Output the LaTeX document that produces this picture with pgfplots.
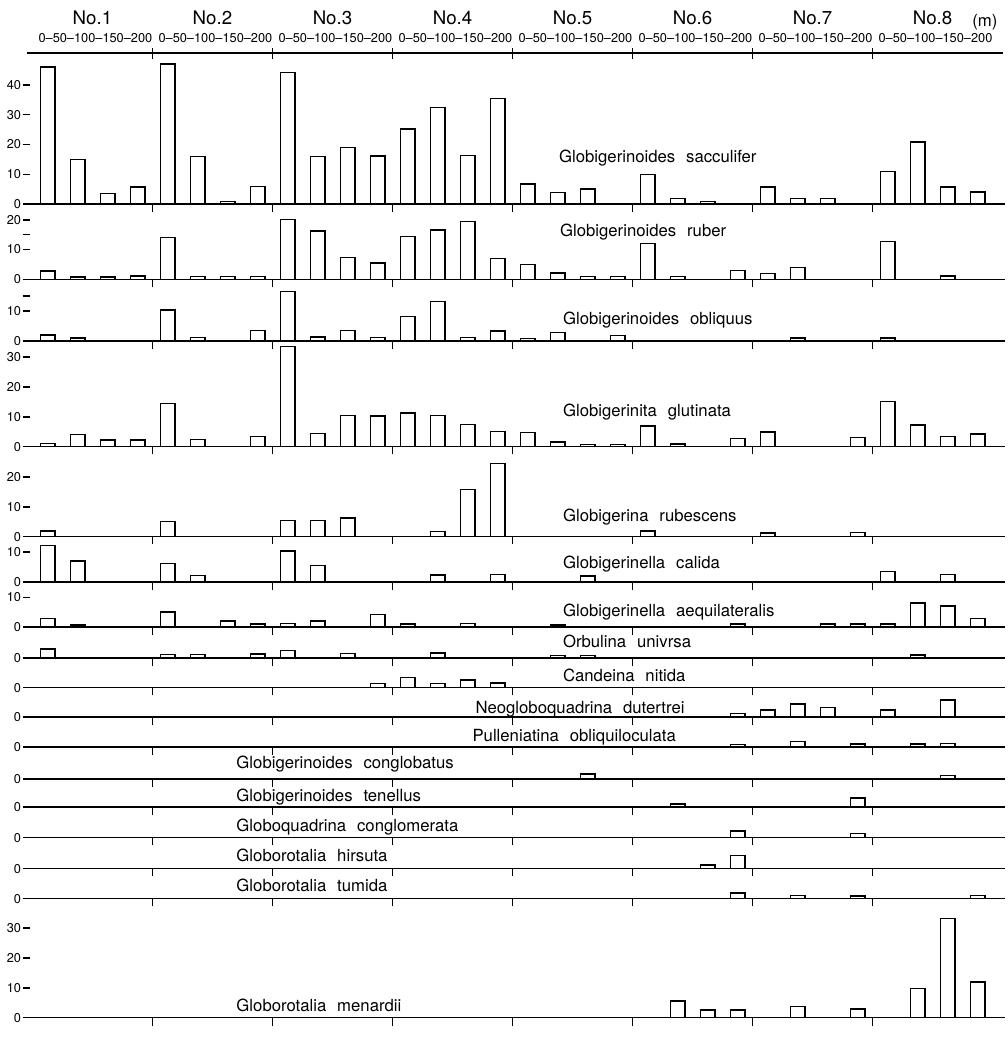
\documentclass[border=0pt]{standalone}
\usepackage{pgfplots}
\pgfplotsset{compat=1.18}
\usepackage{fontspec}
\setmainfont{TeX Gyre Heros}
\newcommand{\lab}{\fontsize{8.5}{10}\selectfont}
\newcommand{\gap}{\hspace{0.65em}}
\pgfplotsset{panel/.style={
  x=15.25pt, y=1.515pt, xmin=-0.2, xmax=32.4, ymin=0,
  enlargelimits=false,
  scale only axis, anchor=south west, clip=false,
  axis x line=bottom, axis y line=left,
  axis line style={-, line width=0.8pt},
  y axis line style={draw=none},
  xtick={4,8,...,28}, xticklabels={},
  tick align=center, major tick length=4pt,
  tick style={black, line width=0.8pt},
  ybar, bar width=0.49,
  /pgf/number format/assume math mode=true,
  yticklabel style={font=\fontsize{6.5}{7}\selectfont, inner sep=0.6pt},
  ytick={0},
}, bars/.style={draw=black, fill=white, line width=0.7pt}}
\begin{document}
\begin{tikzpicture}
\begin{scope}[x=0.5pt,y=0.5pt]
\path[use as bounding box] (0,0) rectangle (1024,-1039);
% header
\draw[line width=0.7pt] (27,-54) -- (1020,-54);
\foreach \s in {155,277,399,521,643,765,887} \draw[line width=0.7pt] (\s,-49) -- (\s,-60);
\foreach \k in {1,...,8} {
  \node[anchor=base, font=\fontsize{9.5}{11}\selectfont, inner sep=0pt] at ({94+122*(\k-1)}, -25) {No.\k};
  \node[anchor=base, font=\fontsize{6.5}{7}\selectfont, inner sep=0pt] at ({97+122*(\k-1)}, -43.5) {0--50--100--150--200};
}
\node[anchor=base west, font=\fontsize{8.5}{10}\selectfont, inner sep=0pt] at (988,-27) {(m)};
% species labels
\begin{scope}[every node/.style={anchor=base west, font=\lab, inner sep=0pt}]
\node at (568,-165.7) {Globigerinoides\gap sacculifer};
\node at (569,-240.7) {Globigerinoides\gap ruber};
\node at (572,-330) {Globigerinoides\gap obliquus};
\node at (572,-423.3) {Globigerinita\gap glutinata};
\node at (572,-530) {Globigerina\gap rubescens};
\node at (572,-578.3) {Globigerinella\gap calida};
\node at (572,-626.7) {Globigerinella\gap aequilateralis};
\node at (572,-658.3) {Orbulina\gap univrsa};
\node at (572,-693.3) {Candeina\gap nitida};
\node at (483,-725) {Neogloboquadrina\gap dutertrei};
\node at (480,-754) {Pulleniatina\gap obliquiloculata};
\node at (240,-781) {Globigerinoides\gap conglobatus};
\node at (240,-814.3) {Globigerinoides\gap tenellus};
\node at (240,-845) {Globoquadrina\gap conglomerata};
\node at (240,-876) {Globorotalia\gap hirsuta};
\node at (240,-906.7) {Globorotalia\gap tumida};
\node at (240,-1028.3) {Globorotalia\gap menardii};
\end{scope}
\end{scope}
% 1 sacculifer
\begin{axis}[panel, at={(13.5pt,-103.75pt)}, ymax=48, ytick={0,10,20,30,40}]
\addplot[bars] coordinates {(0.5,46) (1.5,15) (2.5,3.5) (3.5,5.7) (4.5,47) (5.5,16) (6.5,0.8) (7.5,6) (8.5,44.2) (9.5,16) (10.5,19) (11.5,16.1) (12.5,25.2) (13.5,32.4) (14.5,16.4) (15.5,35.5) (16.5,6.8) (17.5,3.8) (18.5,5.1) (20.5,9.9) (21.5,1.9) (22.5,0.9) (24.5,5.8) (25.5,1.9) (26.5,1.9) (28.5,10.9) (29.5,20.9) (30.5,5.8) (31.5,4)};
\end{axis}
% 2 ruber
\begin{axis}[panel, at={(13.5pt,-142pt)}, ymax=22, ytick={0,10,20}, extra y ticks={15}, extra y tick labels={}]
\addplot[bars] coordinates {(0.5,2.8) (1.5,0.8) (2.5,0.8) (3.5,1.1) (4.5,14.1) (5.5,1) (6.5,1) (7.5,1) (8.5,20.1) (9.5,16.2) (10.5,7.3) (11.5,5.5) (12.5,14.3) (13.5,16.5) (14.5,19.5) (15.5,7.1) (16.5,5) (17.5,2.1) (18.5,0.9) (19.5,0.9) (20.5,12) (21.5,0.9) (23.5,3) (24.5,2) (25.5,4) (28.5,12.8) (30.5,1.1)};
\end{axis}
% 3 obliquus
\begin{axis}[panel, at={(13.5pt,-173.25pt)}, ymax=18, ytick={0,10}, extra y ticks={15}, extra y tick labels={}]
\addplot[bars] coordinates {(0.5,2) (1.5,1) (4.5,10.3) (5.5,1.1) (7.5,3.4) (8.5,16.5) (9.5,1.3) (10.5,3.4) (11.5,1.2) (12.5,8.2) (13.5,13.3) (14.5,1.1) (15.5,3.3) (16.5,0.8) (17.5,2.7) (19.5,1.8) (25.5,1) (28.5,1)};
\end{axis}
% 4 glutinata
\begin{axis}[panel, at={(13.5pt,-227pt)}, ymax=35, ytick={0,10,20,30}]
\addplot[bars] coordinates {(0.5,1.1) (1.5,4) (2.5,2.2) (3.5,2.2) (4.5,14.4) (5.5,2.3) (7.5,3.4) (8.5,33.6) (9.5,4.4) (10.5,10.5) (11.5,10.3) (12.5,11.3) (13.5,10.4) (14.5,7.4) (15.5,5) (16.5,4.7) (17.5,1.6) (18.5,0.7) (19.5,0.8) (20.5,6.9) (21.5,0.9) (23.5,2.7) (24.5,4.9) (27.5,3) (28.5,15.1) (29.5,7.3) (30.5,3.3) (31.5,4.2)};
\end{axis}
% 5 rubescens
\begin{axis}[panel, at={(13.5pt,-272.75pt)}, ymax=26, ytick={0,10,20}]
\addplot[bars] coordinates {(0.5,1.9) (4.5,5.1) (8.5,5.3) (9.5,5.3) (10.5,6.3) (13.5,1.7) (14.5,15.7) (15.5,24.5) (20.5,1.9) (24.5,1.2) (27.5,1.3)};
\end{axis}
% 6 calida
\begin{axis}[panel, at={(13.5pt,-295.75pt)}, ymax=13, ytick={0,10}]
\addplot[bars] coordinates {(0.5,12.1) (1.5,7) (4.5,6.1) (5.5,2.1) (8.5,10.4) (9.5,5.4) (13.5,2.3) (15.5,2.5) (18.5,2) (28.5,3.4) (30.5,2.5)};
\end{axis}
% 7 aequilateralis
\begin{axis}[panel, at={(13.5pt,-318.75pt)}, ymax=11, ytick={0,10}]
\addplot[bars] coordinates {(0.5,2.9) (1.5,0.7) (4.5,5.1) (6.5,2.1) (7.5,1) (8.5,1.2) (9.5,2.1) (11.5,4.2) (12.5,1) (14.5,1.2) (17.5,0.7) (23.5,1.1) (26.5,1.1) (27.5,1.1) (28.5,1) (29.5,8.1) (30.5,7.1) (31.5,2.9)};
\end{axis}
% 8 Orbulina
\begin{axis}[panel, at={(13.5pt,-334.5pt)}, ymax=5]
\addplot[bars] coordinates {(0.5,3.1) (4.5,1.2) (5.5,1.2) (7.5,1.4) (8.5,2.5) (10.5,1.5) (13.5,1.7) (17.5,0.8) (18.5,0.8) (29.5,1)};
\end{axis}
% 9 Candeina
\begin{axis}[panel, at={(13.5pt,-349.5pt)}, ymax=5]
\addplot[bars] coordinates {(11.5,1.3) (12.5,3.3) (13.5,1.3) (14.5,2.6) (15.5,1.6)};
\end{axis}
% 10 dutertrei
\begin{axis}[panel, at={(13.5pt,-364.5pt)}, ymax=7]
\addplot[bars] coordinates {(23.5,1.2) (24.5,2.4) (25.5,4.4) (26.5,3.2) (28.5,2.4) (30.5,5.8)};
\end{axis}
% 11 Pulleniatina
\begin{axis}[panel, at={(13.5pt,-379.75pt)}, ymax=5]
\addplot[bars] coordinates {(23.5,0.8) (25.5,1.9) (27.5,1.1) (29.5,1.1) (30.5,1.3)};
\end{axis}
% 12 conglobatus
\begin{axis}[panel, at={(13.5pt,-396pt)}, ymax=5]
\addplot[bars] coordinates {(18.5,1.7) (30.5,1.2)};
\end{axis}
% 13 tenellus
\begin{axis}[panel, at={(13.5pt,-410.25pt)}, ymax=5]
\addplot[bars] coordinates {(21.5,1.1) (27.5,3)};
\end{axis}
% 14 conglomerata
\begin{axis}[panel, at={(13.5pt,-425.75pt)}, ymax=5]
\addplot[bars] coordinates {(23.5,2.2) (27.5,1.3)};
\end{axis}
% 15 hirsuta
\begin{axis}[panel, at={(13.5pt,-441.5pt)}, ymax=5]
\addplot[bars] coordinates {(22.5,1.2) (23.5,4.4)};
\end{axis}
% 16 tumida
\begin{axis}[panel, at={(13.5pt,-456.75pt)}, ymax=5]
\addplot[bars] coordinates {(23.5,1.9) (25.5,1) (27.5,0.9) (31.5,1.1)};
\end{axis}
% 17 menardii
\begin{axis}[panel, at={(13.5pt,-517.25pt)}, ymax=35, ytick={0,10,20,30}]
\addplot[bars] coordinates {(21.5,5.6) (22.5,2.6) (23.5,2.6) (25.5,3.8) (27.5,2.9) (29.5,9.8) (30.5,33.2) (31.5,11.9)};
\end{axis}
\end{tikzpicture}
\end{document}
